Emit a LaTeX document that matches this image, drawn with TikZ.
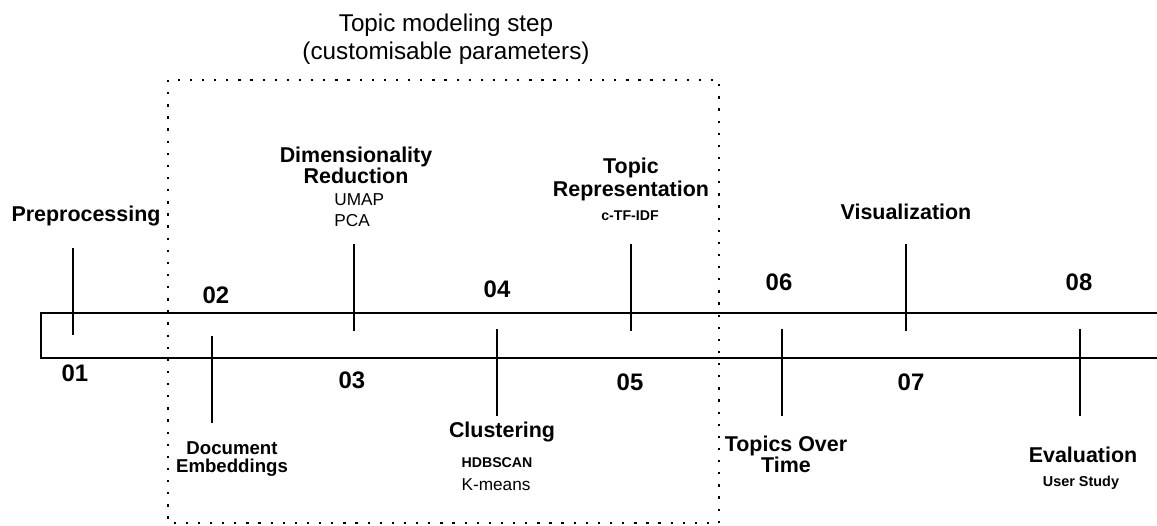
\documentclass[tikz,border=0pt]{standalone}
\usepackage{fontspec}
\setmainfont{Liberation Sans}
\begin{document}
\begin{tikzpicture}[x=0.02cm, y=-0.02cm,
  steplabel/.style={font=\fontsize{12.2}{11.9}\selectfont\bfseries, align=center, inner sep=0pt},
  stepnum/.style={font=\fontsize{13.6}{15}\selectfont\bfseries, inner sep=0pt},
  method/.style={font=\fontsize{9.8}{11.9}\selectfont, align=left, inner sep=0pt},
  methodbold/.style={font=\fontsize{8.05}{9.5}\selectfont\bfseries, inner sep=0pt},
  tickline/.style={line width=1.4pt},
  stepbox/.style={line width=0.9pt, dash pattern=on 1.3pt off 5.6pt}]
\useasboundingbox (0,0) rectangle (1157,525);

% title of the middle block
\node[font=\fontsize{13.8}{15.9}\selectfont, align=center, inner sep=0pt] (title) at (446,39) {Topic modeling step\\(customisable parameters)};
\draw[stepbox] (168,80) rectangle (719,523);

% timeline band
\draw[line width=0.9pt] (1175,313) -- (41,313) -- (41,358) -- (1175,358);

% ticks
\draw[tickline] (73,248) -- (73,335);
\draw[tickline] (212,336) -- (212,423);
\draw[tickline] (354,244) -- (354,331);
\draw[tickline] (497,329) -- (497,416);
\draw[tickline] (631,244) -- (631,331);
\draw[tickline] (782,329) -- (782,416);
\draw[tickline] (906,244) -- (906,331);
\draw[tickline] (1080,329) -- (1080,416);

% step numbers
\node[stepnum] (n01) at (75,373) {01};
\node[stepnum] (n02) at (216,295) {02};
\node[stepnum] (n03) at (352,380) {03};
\node[stepnum] (n04) at (497,289) {04};
\node[stepnum] (n05) at (630,382) {05};
\node[stepnum] (n06) at (779,282) {06};
\node[stepnum] (n07) at (911,382) {07};
\node[stepnum] (n08) at (1079,282) {08};

% step names
\node[steplabel] (prep) at (86,216) {Preprocessing};
\node[steplabel, font=\fontsize{10.6}{10.4}\selectfont\bfseries] (embed) at (232,459) {Document\\Embeddings};
\node[steplabel] (dimred) at (356,165.5) {Dimensionality\\Reduction};
\node[method, anchor=west] (dimmeth) at (334,210.5) {UMAP\\PCA};
\node[steplabel] (clust) at (502,432) {Clustering};
\node[methodbold] (hdb) at (497,463) {HDBSCAN};
\node[method] (kmeans) at (496,485) {K-means};
\node[steplabel, font=\fontsize{12.2}{13}\selectfont\bfseries] (toprep) at (631,179.5) {Topic\\Representation};
\node[methodbold] (ctfidf) at (630,216) {c-TF-IDF};
\node[steplabel] (overtime) at (786,454.5) {Topics Over\\Time};
\node[steplabel] (vis) at (906,212) {Visualization};
\node[steplabel] (eval) at (1083,455) {Evaluation};
\node[methodbold, font=\fontsize{8.2}{9.5}\selectfont\bfseries] (study) at (1081,483) {User Study};
\end{tikzpicture}
\end{document}
